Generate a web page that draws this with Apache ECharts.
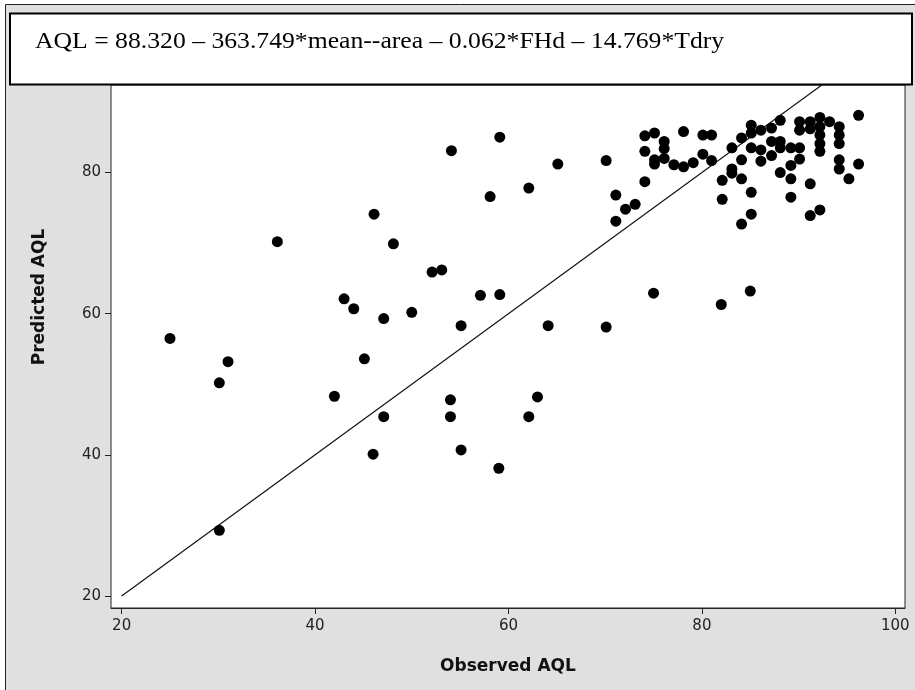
<!DOCTYPE html>
<html>
<head>
<meta charset="utf-8">
<script src="https://cdn.jsdelivr.net/npm/echarts@6/dist/echarts.min.js"></script>
<style>html,body{margin:0;padding:0;background:#fff}#c{width:915px;height:690px}</style>
</head>
<body>
<div id="c"></div>
<script>
const titleText = "AQL = 88.320 \u2013 363.749*mean--area \u2013 0.062*FHd \u2013 14.769*Tdry";
const xName = "Observed AQL";
const yName = "Predicted AQL";
const xTicks = [20, 40, 60, 80, 100];
const yTicks = [20, 40, 60, 80];
const observed = [25.0,30.1,31.0,30.1,36.1,42.0,43.0,44.0,45.1,46.1,46.0,47.1,47.1,48.1,50.0,52.1,53.1,54.1,54.0,54.0,
  55.1,55.1,57.1,58.1,59.1,59.1,59.0,62.1,62.1,63.0,64.1,65.1,70.1,70.1,71.1,71.1,72.1,73.1,74.1,74.1,
  74.1,75.1,75.1,75.1,75.0,76.1,76.1,76.1,77.1,78.1,78.1,79.1,80.1,81.0,80.1,81.0,82.1,82.1,82.0,83.1,
  83.1,83.1,84.1,84.1,84.1,84.1,85.1,85.1,85.1,85.1,85.1,85.0,86.1,86.1,86.1,87.2,87.2,87.2,88.1,88.1,
  88.1,88.1,89.2,89.2,89.2,89.2,90.1,90.1,90.1,90.1,91.2,91.2,91.2,91.2,92.2,92.2,92.2,92.2,92.2,92.2,
  93.2,94.2,94.2,94.2,94.2,94.2,95.2,96.2,96.2];
const predicted = [56.5,50.2,53.2,29.3,70.2,48.3,62.1,60.7,53.6,74.1,40.1,59.3,45.4,69.9,60.2,65.9,66.2,83.1,47.8,45.4,
  58.3,40.7,62.6,76.6,85.0,62.7,38.1,77.8,45.4,48.2,58.3,81.2,81.7,58.1,76.8,73.1,74.8,75.5,85.2,83.0,
  78.7,85.6,81.8,81.2,62.9,84.4,83.4,82.0,81.1,85.8,80.8,81.4,85.3,85.3,82.6,81.7,78.9,76.2,61.3,83.5,
  80.5,79.9,84.9,81.8,79.1,72.7,86.7,85.6,83.5,77.2,74.1,63.2,86.0,83.2,81.6,86.3,84.4,82.4,87.4,84.4,
  83.5,80.0,83.5,81.0,79.1,76.5,87.2,86.0,83.5,81.9,87.2,86.2,78.4,73.9,87.8,86.5,85.3,84.1,83.0,74.7,
  87.2,86.5,85.3,84.1,81.8,80.5,79.1,88.1,81.2];
const refLine = [[20, 20], [96, 96]];

const points = observed.map((v, i) => [v, predicted[i]]);
const chart = echarts.init(document.getElementById('c'), null, {renderer: 'canvas'});
const tickFont = {fontFamily: 'DejaVu Sans', fontSize: 15, color: '#222'};
chart.setOption({
  animation: false,
  backgroundColor: '#ffffff',
  grid: {left: 111, right: 10, top: 85, bottom: 82, show: true, backgroundColor: '#ffffff', borderColor: '#222', borderWidth: 1, z: 1},
  xAxis: {
    type: 'value', min: 18.9, max: 101,
    axisLine: {show: true, lineStyle: {color: '#222', width: 1}},
    axisTick: {show: true, length: 6, customValues: xTicks, lineStyle: {color: '#222'}},
    axisLabel: Object.assign({customValues: xTicks, margin: 11}, tickFont),
    splitLine: {show: false}
  },
  yAxis: {
    type: 'value', min: 18.3, max: 92.4,
    axisLine: {show: true, lineStyle: {color: '#222', width: 1}},
    axisTick: {show: true, length: 6, customValues: yTicks, lineStyle: {color: '#222'}},
    axisLabel: Object.assign({customValues: yTicks, margin: 10}, tickFont),
    splitLine: {show: false}
  },
  series: [
    {type: 'line', data: refLine, symbol: 'none', clip: true, lineStyle: {color: '#111', width: 1.2}, z: 2},
    {type: 'scatter', data: points, symbol: 'circle', symbolSize: 11, itemStyle: {color: '#000', opacity: 1}, z: 3}
  ],
  graphic: [
    {type: 'rect', z: -10, silent: true, shape: {x: 5.5, y: 4.5, width: 930, height: 700}, style: {fill: '#e0e0e0', stroke: '#222', lineWidth: 1}},
    {type: 'rect', z: 100, silent: true, shape: {x: 10, y: 13.5, width: 902, height: 71}, style: {fill: '#fff', stroke: '#000', lineWidth: 2}},
    {type: 'text', z: 101, left: 35, top: 30, style: {text: titleText, font: '24px "Liberation Serif"', fill: '#000'}, scaleX: 1.07},
    {type: 'text', z: 101, style: {text: xName, font: 'bold 17px "DejaVu Sans"', fill: '#111', align: 'center', verticalAlign: 'middle'}, x: 508, y: 667},
    {type: 'text', z: 101, style: {text: yName, font: 'bold 17px "DejaVu Sans"', fill: '#111', align: 'center', verticalAlign: 'middle'}, x: 40, y: 297, rotation: Math.PI / 2}
  ]
});
</script>
</body>
</html>
